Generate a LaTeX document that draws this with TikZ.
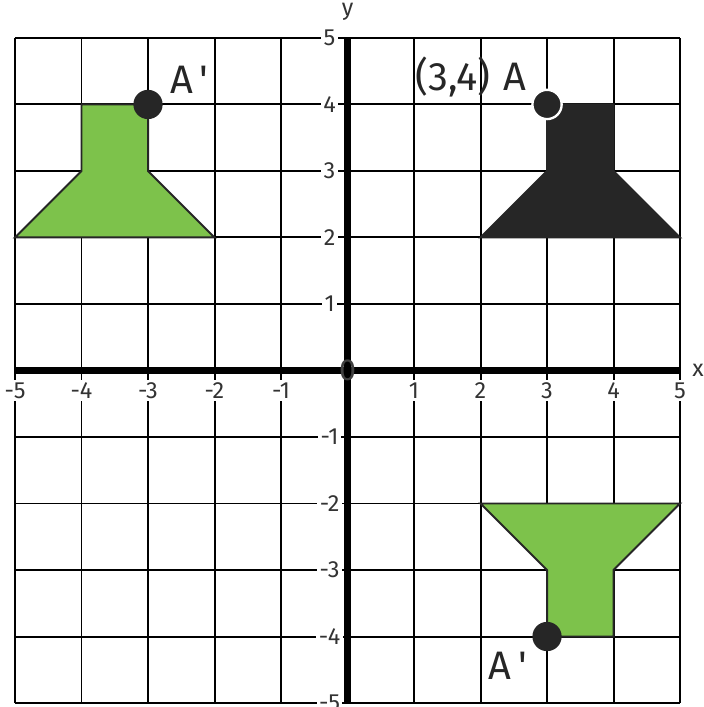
\documentclass[tikz,border=0pt]{standalone}
\usepackage{fontspec}
\setmainfont{Fira Sans}
\usetikzlibrary{positioning}

\definecolor{shapegreen}{HTML}{7DC24B}
\definecolor{shapedark}{HTML}{262626}

\tikzset{
  gridline/.style={line width=0.85pt,black},
  axisline/.style={line width=2.6pt,black},
  ticklabel/.style={fill=white,inner sep=1pt,text=black!80,font=\fontsize{10}{12}\selectfont},
  imagebox/.style={fill=shapegreen,draw=shapedark,line width=0.85pt,line join=miter},
  objectbox/.style={fill=shapedark,draw=shapedark,line width=0.85pt},
  vertexdot/.style={circle,fill=shapedark,minimum size=0.44cm,inner sep=0pt},
  pointlabel/.style={text=black!85,font=\fontsize{17}{19}\selectfont}
}

\begin{document}
\begin{tikzpicture}
\useasboundingbox (-5.2256,-5.06) rectangle (5.346,5.571);

% grid
\foreach \i in {-5,...,5} {
  \draw[gridline] (\i,-5) -- (\i,5);
  \draw[gridline] (-5,\i) -- (5,\i);
}

% axes
\draw[axisline] (-5,0) -- (5,0);
\draw[axisline] (0,-5) -- (0,5);

% shapes
\draw[objectbox] (3,4) -- (4,4) -- (4,3) -- (5,2) -- (2,2) -- (3,3) -- cycle;
\draw[imagebox] (-4,4) -- (-3,4) -- (-3,3) -- (-2,2) -- (-5,2) -- (-4,3) -- cycle;
\draw[imagebox] (3,-4) -- (4,-4) -- (4,-3) -- (5,-2) -- (2,-2) -- (3,-3) -- cycle;

% tick labels
\foreach \i in {-5,-4,-3,-2,-1,1,2,3,4,5}
  \node[ticklabel] (xt\i) at (\i,-0.3) {\i};
\foreach \i in {-5,-4,-3,-2,-1,1,2,3,4,5}
  \node[ticklabel] (yt\i) at (-0.27,\i) {\i};
\node[text=black!75,font=\fontsize{13}{15}\selectfont,inner sep=0pt] (orig) at (0,0) {0};
\node[text=black!80,font=\fontsize{10}{12}\selectfont] (xlab) at (5.27,0) {x};
\node[text=black!80,font=\fontsize{10}{12}\selectfont] (ylab) at (0,5.39) {y};

% points
\node[vertexdot,draw=white,line width=1pt] (A) at (3,4) {};
\node[vertexdot] (A1) at (-3,4) {};
\node[vertexdot] (A2) at (3,-4) {};
\node[pointlabel,above left=-0.18cm and 0.02cm of A] (Alab) {(3,4)\,\,A};
\node[pointlabel,above right=-0.12cm and 0.05cm of A1] (A1lab) {A\,\textquotesingle};
\node[pointlabel,below left=-0.05cm and 0.02cm of A2] (A2lab) {A\,\textquotesingle};

\end{tikzpicture}
\end{document}
